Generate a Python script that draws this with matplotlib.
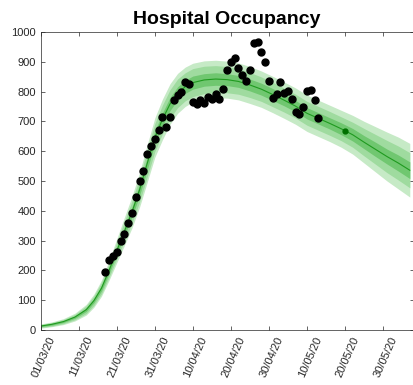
import numpy as np
import matplotlib
matplotlib.use("Agg")
import matplotlib.pyplot as plt
import matplotlib.dates as mdates
from matplotlib.transforms import ScaledTranslation

plt.rcParams['font.family'] = ['Liberation Sans', 'DejaVu Sans']

start = np.datetime64('2020-03-01')

# model fan: days since 01/03, median and half-widths of the three bands
model_days = [0, 3, 6, 9, 12, 14, 16, 18, 20, 22, 24, 26, 28, 30, 32, 34, 36, 38, 40,
              43, 46, 49, 52, 55, 58, 61, 64, 67, 70, 73, 76, 79, 82, 85, 88, 91, 94, 97]
median = [13, 19, 28, 43, 68, 98, 140, 200, 265, 330, 395, 470, 558, 645, 706, 758, 794, 816, 830,
          839, 842, 840, 834, 822, 808, 790, 771, 751, 727, 710, 693, 675, 655, 630, 606, 582, 560, 536]
outer = [7, 8, 10, 13, 18, 22, 27, 33, 40, 47, 53, 58, 63, 66, 68, 68, 67, 66, 65,
         64, 63, 62, 62, 62, 61, 61, 61, 61, 61, 61, 61, 62, 65, 70, 76, 82, 87, 90]
middle = [5, 6, 7, 9, 13, 16, 19, 23, 28, 33, 37, 41, 45, 47, 48, 48, 48, 47, 47,
          46, 45, 44, 43, 42, 41, 41, 40, 40, 40, 40, 40, 40, 42, 46, 50, 54, 57, 59]
inner = [2, 3, 3, 4, 6, 7, 9, 11, 13, 15, 17, 19, 21, 22, 22, 22, 22, 22, 22,
         21, 21, 20, 20, 20, 20, 20, 19, 19, 19, 19, 19, 20, 21, 22, 24, 25, 27, 28]

# observed occupancy, daily from 18/03
obs_days = list(range(17, 74))
occupancy = [196, 234, 248, 262, 300, 323, 359, 392, 447, 501, 535, 592, 616, 640, 672,
             713, 682, 713, 771, 788, 799, 833, 826, 766, 757, 770, 761, 783, 775, 791,
             775, 809, 872, 898, 912, 880, 857, 834, 872, 964, 966, 932, 898, 837, 778,
             791, 833, 796, 802, 775, 730, 724, 749, 802, 805, 770, 710]

# single held-out point
check_day = [80]
check_val = [668]

x_model = start + np.array(model_days)
x_obs = start + np.array(obs_days)
x_check = start + np.array(check_day)
med = np.array(median, dtype=float)

fig = plt.figure(figsize=(4.14, 3.85), dpi=100)
ax = fig.add_axes([0.098, 0.143, 0.901, 0.774])

for w, col in [(outer, '#c6eac6'), (middle, '#9fdb9f'), (inner, '#70c770')]:
    w = np.array(w, dtype=float)
    ax.fill_between(x_model, med - w, med + w, color=col, linewidth=0)
ax.plot(x_model, med, color='#1f9a1f', linewidth=0.8)

ax.plot(x_obs, occupancy, 'o', color='black', markersize=5)
ax.plot(x_check, check_val, 'o', color='#007000', markersize=3.5)

ax.set_xlim(start, start + np.timedelta64(98, 'D'))
ax.set_ylim(0, 1000)
ax.set_yticks(np.arange(0, 1001, 100))
ax.set_xticks(start + np.arange(0, 91, 10))
ax.xaxis.set_major_formatter(mdates.DateFormatter('%d/%m/%y'))

ax.tick_params(direction='in', top=True, right=True, length=3, width=0.5,
               labelsize=8, colors='#262626')
shift = ScaledTranslation(5 / 72, 0, fig.dpi_scale_trans)
for lab in ax.get_xticklabels():
    lab.set_rotation(66)
    lab.set_ha('right')
    lab.set_va('top')
    lab.set_rotation_mode('anchor')
    lab.set_transform(lab.get_transform() + shift)
for s in ax.spines.values():
    s.set_linewidth(0.5)
    s.set_color('#262626')

ax.set_title('Hospital Occupancy', fontsize=14, fontweight='bold', pad=6)

fig.savefig('out.png', dpi=100)
